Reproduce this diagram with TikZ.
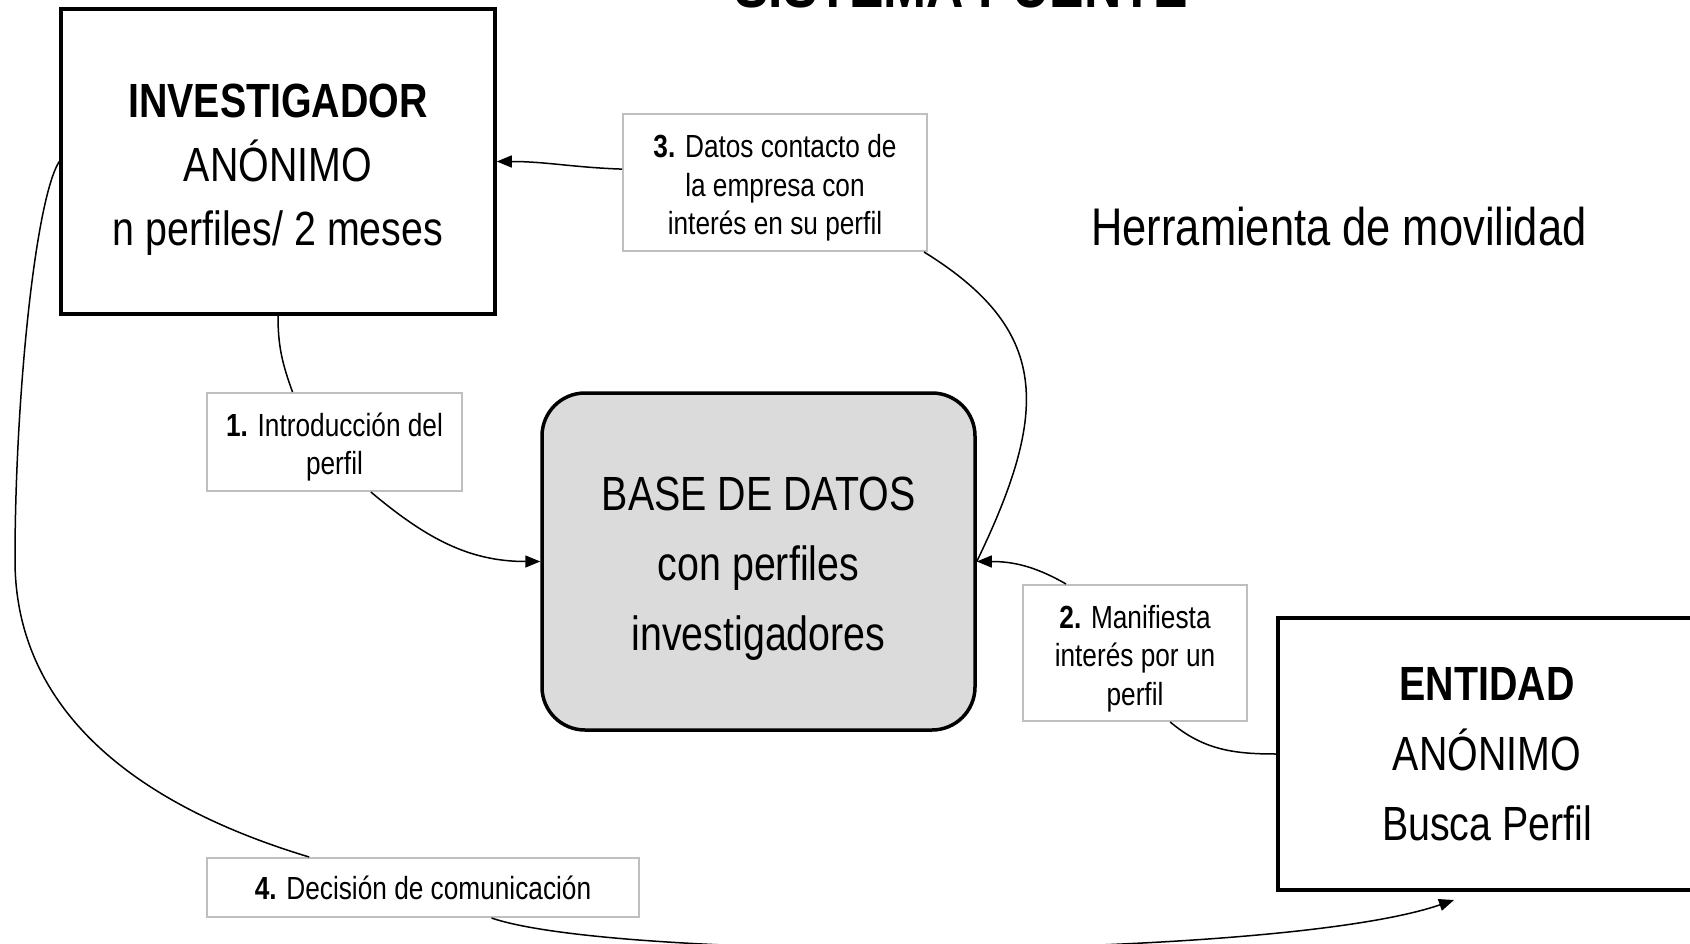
\documentclass[tikz,border=0pt]{standalone}
\usepackage{fontspec}
\setmainfont[FakeStretch=0.82]{Liberation Sans}
\usetikzlibrary{arrows.meta}

\begin{document}
\begin{tikzpicture}[x=1pt, y=-1pt,
          actor/.style = {draw, line width=3.5pt, inner sep=0pt, align=center,
                          font=\fontsize{48}{64}\selectfont},
          base/.style = {draw, line width=3.5pt, fill=black!14, rounded corners=43pt,
                         inner sep=0pt, align=center, font=\fontsize{48}{70}\selectfont},
          etiq/.style = {draw=black!25, line width=2pt, fill=white, inner sep=0pt,
                         align=center, font=\fontsize{32}{38.5}\selectfont},
          flecha/.style = {line width=1.5pt, -{Triangle[length=15pt,width=12pt]}},
          linea/.style = {line width=1.5pt}]
          \useasboundingbox (0,0) rectangle (1690,944);
          \clip (0,0) rectangle (1690,944);

          \node[font=\fontsize{63}{63}\selectfont\bfseries, anchor=base] (titulo) at (961,8) {SISTEMA PUENTE};
          \node[font=\fontsize{53}{53}\selectfont] (herr) at (1339,227) {Herramienta de movilidad};

          \node[actor, minimum width=434pt, minimum height=305pt] (inv) at (278,161.5)
            {\rule{0pt}{50pt}\textbf{INVESTIGADOR}\\ANÓNIMO\\n perfiles/ 2 meses};
          \node[base, minimum width=433pt, minimum height=337pt] (bd) at (758.5,561.5)
            {\rule{0pt}{47pt}BASE DE DATOS\\con perfiles\\investigadores};
          \node[actor, minimum width=418pt, minimum height=272pt, font=\fontsize{48}{70}\selectfont] (ent) at (1487,754)
            {\textbf{ENTIDAD}\\ANÓNIMO\\Busca Perfil};

          \node[etiq, minimum width=255pt, minimum height=98pt] (et1) at (334.5,442)
            {\rule{0pt}{34pt}\textbf{1.} Introducción del\\perfil};
          \node[etiq, minimum width=224pt, minimum height=136pt] (et2) at (1135,653)
            {\rule{0pt}{34pt}\textbf{2.} Manifiesta\\interés por un\\perfil};
          \node[etiq, minimum width=304pt, minimum height=137pt] (et3) at (775,182.5)
            {\rule{0pt}{34pt}\textbf{3.} Datos contacto de\\la empresa con\\interés en su perfil};
          \node[etiq, minimum width=432pt, minimum height=59pt] (et4) at (423,887.5)
            {\textbf{4.} Decisión de comunicación};
          \coordinate (entin) at (1454,900);

          \draw[linea] (inv.south) to[out=-90, in=110] (et1.130);
          \draw[flecha] (et1.-54) to[out=-40, in=180] (bd.west);
          \draw[linea] (ent.west) to[out=180, in=-40] (et2.-63);
          \draw[flecha] (et2.135) to[out=150, in=0] (bd.east);
          \draw[linea] (bd.east) .. controls (1050,410) and (1050,330) .. (et3.-25);
          \draw[flecha] (et3.175) to[out=178, in=0] (inv.east);
          \draw[linea] (inv.west) .. controls (35,200) and (15,400) .. (15,560)
            .. controls (15,700) and (120,800) .. (et4.165);
          \draw[flecha] (et4.-24) .. controls (620,962) and (1280,960) .. (entin);
        \end{tikzpicture}
\end{document}
